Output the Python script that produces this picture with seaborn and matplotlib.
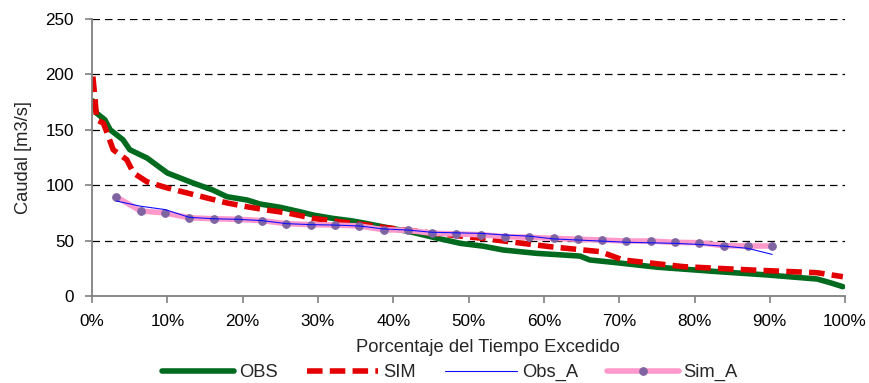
import numpy as np
import pandas as pd
import matplotlib
matplotlib.use("Agg")
import matplotlib.pyplot as plt
import seaborn as sns

# ---- data ----
obs_x = [0.1, 0.6, 1.7, 2.4, 4.1, 5.0, 7.3, 8.6, 10.0, 11.7, 13.4, 16.0, 17.9, 20.6,
         22.3, 25.0, 27.6, 29.4, 32.0, 34.3, 36.0, 38.6, 42.2, 45.3, 48.9, 51.9, 54.6,
         59.0, 64.8, 66.1, 69.7, 75.0, 83.0, 89.6, 96.3, 98.0, 99.7]
obs_y = [176, 165, 159, 150, 141, 132, 124.5, 118, 111, 106.5, 102, 95.7, 89.6, 86.6,
         83, 80, 76, 73, 70, 68, 66, 62.5, 58, 53, 47.5, 45, 41.5,
         38.5, 36, 32.5, 30, 26, 22, 19, 15.3, 12, 8.4]

sim_x = [0.1, 0.4, 0.6, 1.5, 2.0, 2.8, 4.6, 5.5, 7.3, 10.0, 12.6, 15.3, 17.9, 20.6,
         23.2, 25.9, 29.4, 32.9, 36.5, 38.6, 45.3, 51.9, 57.2, 60.8, 67.5, 70.5,
         78.5, 87.4, 96.3, 99.7]
sim_y = [198, 177, 159, 156, 147, 132, 123, 111, 103, 97.5, 93, 88.4, 84, 80.5,
         77.6, 75, 70, 67, 64, 62, 56.6, 52, 47.5, 44.5, 40, 32.5,
         26.5, 23.5, 21, 17.4]

a_x = [100 * i / 31 for i in range(1, 29)]
sim_a = [89.4, 76.7, 75.0, 70.6, 69.7, 69.2, 68.0, 65.3, 64.4, 64.0, 63.2, 59.8, 59.3, 56.6,
         56.0, 55.3, 53.5, 53.0, 52.0, 51.2, 50.5, 49.6, 49.6, 48.4, 48.1, 45.4, 45.1, 45.1]
obs_a = [85.7, 81.0, 78.0, 71.0, 69.7, 69.2, 68.0, 65.3, 64.4, 64.0, 63.2, 60.5, 59.5, 57.5,
         57.0, 56.5, 55.0, 54.0, 51.5, 50.5, 49.5, 48.5, 48.0, 47.5, 46.5, 45.0, 43.0, 37.5]

xticks = [0, 10, 20, 30, 40, 50, 60, 70, 80, 90, 100]
xticklabels = [f"{t}%" for t in xticks]
yticks = [0, 50, 100, 150, 200, 250]

df = pd.concat([
    pd.DataFrame({"x": obs_x, "y": obs_y, "serie": "OBS"}),
    pd.DataFrame({"x": sim_x, "y": sim_y, "serie": "SIM"}),
    pd.DataFrame({"x": a_x, "y": obs_a, "serie": "Obs_A"}),
    pd.DataFrame({"x": a_x, "y": sim_a, "serie": "Sim_A"}),
], ignore_index=True)

sns.set_theme(style="white")
plt.rcParams['font.family'] = ['Liberation Sans', 'DejaVu Sans']

FS_TICK = 12.3
FS = 13.2
fig = plt.figure(figsize=(8.69, 3.83), dpi=100)
ax = fig.add_axes([0.106, 0.2272, 0.8665, 0.7232])

for y in [50, 100, 150, 200, 250]:
    ax.axhline(y, color="black", lw=0.9, ls=(0, (6, 4)), zorder=0)

sns.lineplot(data=df[df.serie == "OBS"], x="x", y="y", ax=ax, color="#006A1E",
             lw=4.0, label="OBS", sort=False, estimator=None)
sns.lineplot(data=df[df.serie == "SIM"], x="x", y="y", ax=ax, color="#E30000",
             lw=4.0, dashes=False, label="SIM", sort=False, estimator=None)
ax.lines[-1].set_linestyle((0, (2.8, 1.3)))
sns.lineplot(data=df[df.serie == "Sim_A"], x="x", y="y", ax=ax, color="#FF99CC",
             lw=4.0, label="Sim_A", sort=False, estimator=None,
             marker="o", markersize=5.5, markerfacecolor="#8064A2",
             markeredgecolor="#8064A2", zorder=3)
sns.lineplot(data=df[df.serie == "Obs_A"], x="x", y="y", ax=ax, color="#1010FF",
             lw=0.8, label="Obs_A", sort=False, estimator=None, zorder=4)

ax.set_xlim(0, 100)
ax.set_ylim(0, 250)
ax.set_xticks(xticks)
ax.set_xticklabels(xticklabels)
ax.set_yticks(yticks)
ax.tick_params(axis="both", labelsize=FS_TICK, labelcolor="black", length=5, width=1.2,
               direction="out", color="#808080", left=True, bottom=True, pad=8)
for s in ["top", "right"]:
    ax.spines[s].set_visible(False)
for s in ["left", "bottom"]:
    ax.spines[s].set_color("#808080")
    ax.spines[s].set_linewidth(1.3)
ax.set_xlabel("Porcentaje del Tiempo Excedido", fontsize=FS, labelpad=7)
ax.xaxis.set_label_coords(0.526, -0.155)
ax.set_ylabel("Caudal [m3/s]", fontsize=FS, labelpad=7)
ax.yaxis.set_label_coords(-0.08, 0.5)

handles, labels = ax.get_legend_handles_labels()
order = [labels.index(l) for l in ["OBS", "SIM", "Obs_A", "Sim_A"]]
ax.legend([handles[i] for i in order], [labels[i] for i in order],
          loc="lower center", bbox_to_anchor=(0.518, 0.0), bbox_transform=fig.transFigure,
          ncol=4, frameon=False, fontsize=FS, handlelength=3.9, columnspacing=1.6,
          handletextpad=0.27, borderaxespad=0.05, borderpad=0.05)

fig.savefig("out.png", dpi=100)
